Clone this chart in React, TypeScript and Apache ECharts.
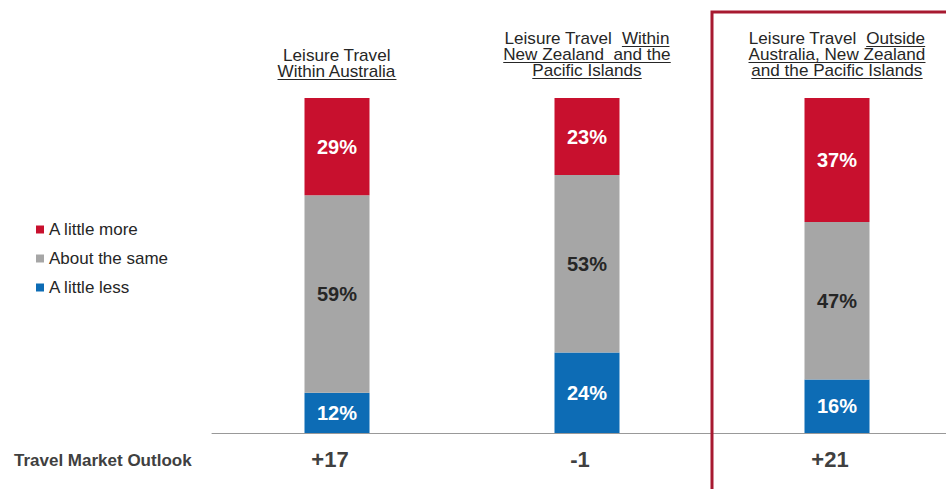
import React, { useEffect, useRef } from "react";
import * as echarts from "echarts";

const categories = [
  "Leisure Travel Within Australia",
  "Leisure Travel Within New Zealand and the Pacific Islands",
  "Leisure Travel Outside Australia, New Zealand and the Pacific Islands",
];
const lessValues = [12, 24, 16];
const sameValues = [59, 53, 47];
const moreValues = [29, 23, 37];
const outlook = ["+17", "-1", "+21"];
const seriesNames = ["A little more", "About the same", "A little less"];
const rowLabel = "Travel Market Outlook";

// title lines: segments, u = underlined
const titleLines = [
  [[{ t: "Leisure Travel" }], [{ t: "Within Australia", u: true }]],
  [
    [{ t: "Leisure Travel" }, { t: "  " }, { t: "Within", u: true }],
    [{ t: "New Zealand  and the", u: true }],
    [{ t: "Pacific Islands", u: true }],
  ],
  [
    [{ t: "Leisure Travel" }, { t: "  " }, { t: "Outside", u: true }],
    [{ t: "Australia, New Zealand", u: true }],
    [{ t: "and the Pacific Islands", u: true }],
  ],
];

const FONT = '"Liberation Sans", Arial, sans-serif';
const RED = "#C8102E";
const GRAY = "#A6A6A6";
const BLUE = "#0D6CB5";
const TXT = "#262626";

export default function App() {
  const ref = useRef<HTMLDivElement>(null);
  useEffect(() => {
    if (!ref.current) return;
    const chart = echarts.init(ref.current, undefined, { renderer: "svg" });
    const labelBase = { show: true, position: "inside", formatter: "{c}%", fontSize: 20, fontWeight: "bold", fontFamily: FONT };
    chart.setOption({
      animation: false,
      textStyle: { fontFamily: FONT },
      grid: { left: 212, width: 750, top: 98, bottom: 56, outerBoundsMode: "none", containLabel: false },
      legend: {
        orient: "vertical",
        left: 36,
        top: 221,
        padding: 0,
        itemWidth: 8,
        itemHeight: 8,
        itemGap: 12,
        icon: "rect",
        data: seriesNames,
        textStyle: { fontSize: 17, color: TXT, lineHeight: 17, fontFamily: FONT },
      },
      xAxis: {
        type: "category",
        data: categories,
        axisLine: { lineStyle: { color: "#999999", width: 1 } },
        axisTick: { show: false },
        axisLabel: {
          formatter: (_v: string, i: number) => outlook[i],
          fontSize: 22,
          fontWeight: "bold",
          color: "#404040",
          margin: 15,
          padding: [0, 14, 0, 0],
          fontFamily: FONT,
        },
      },
      yAxis: { type: "value", min: 0, max: 100, show: false, splitLine: { show: false } },
      series: [
        { name: seriesNames[2], type: "bar", stack: "s", barWidth: 65, data: lessValues, itemStyle: { color: BLUE }, label: { ...labelBase, color: "#ffffff" } },
        { name: seriesNames[1], type: "bar", stack: "s", barWidth: 65, data: sameValues, itemStyle: { color: GRAY }, label: { ...labelBase, color: TXT } },
        { name: seriesNames[0], type: "bar", stack: "s", barWidth: 65, data: moreValues, itemStyle: { color: RED }, label: { ...labelBase, color: "#ffffff" } },
      ],
    });

    const canvas = document.createElement("canvas");
    const ctx = canvas.getContext("2d")!;
    const titleFont = "16px " + FONT;
    const SX = 1.07;
    ctx.font = titleFont;
    const w = (s: string) => ctx.measureText(s).width * SX;

    const centers = categories.map((_, i) => chart.convertToPixel({ xAxisIndex: 0 }, i) as number);
    const band = centers[1] - centers[0];
    const graphics: any[] = [];
    const lineH = 16;
    titleLines.forEach((lines, ci) => {
      const cx = centers[ci];
      const n = lines.length;
      const lastY = ci === 0 ? 72 : 71;
      lines.forEach((segs, li) => {
        const y = lastY - (n - 1 - li) * lineH;
        const full = segs.map((s) => s.t).join("");
        let x = cx - w(full) / 2;
        segs.forEach((s: any) => {
          const sw = w(s.t);
          if (s.t.trim().length) {
            graphics.push({
              type: "text",
              x,
              y,
              scaleX: SX,
              style: { text: s.t, fill: TXT, font: titleFont, textAlign: "left", textVerticalAlign: "middle" },
            });
            if (s.u) {
              graphics.push({
                type: "line",
                shape: { x1: x, y1: y + 7.5, x2: x + sw, y2: y + 7.5 },
                style: { stroke: TXT, lineWidth: 1 },
              });
            }
          }
          x += sw;
        });
      });
    });
    graphics.push({
      type: "text",
      x: 14,
      y: 460,
      style: { text: rowLabel, fill: "#404040", font: "bold 17px " + FONT, textAlign: "left", textVerticalAlign: "middle" },
    });
    const boxLeft = centers[2] - band / 2;
    graphics.push({
      type: "rect",
      shape: { x: boxLeft, y: 12, width: 400, height: 600 },
      style: { fill: "none", stroke: "#A71930", lineWidth: 3 },
      z: 10,
    });
    chart.setOption({ graphic: graphics });
    return () => chart.dispose();
  }, []);
  return <div ref={ref} style={{ position: "absolute", left: 0, top: 0, width: 946, height: 489 }} />;
}
